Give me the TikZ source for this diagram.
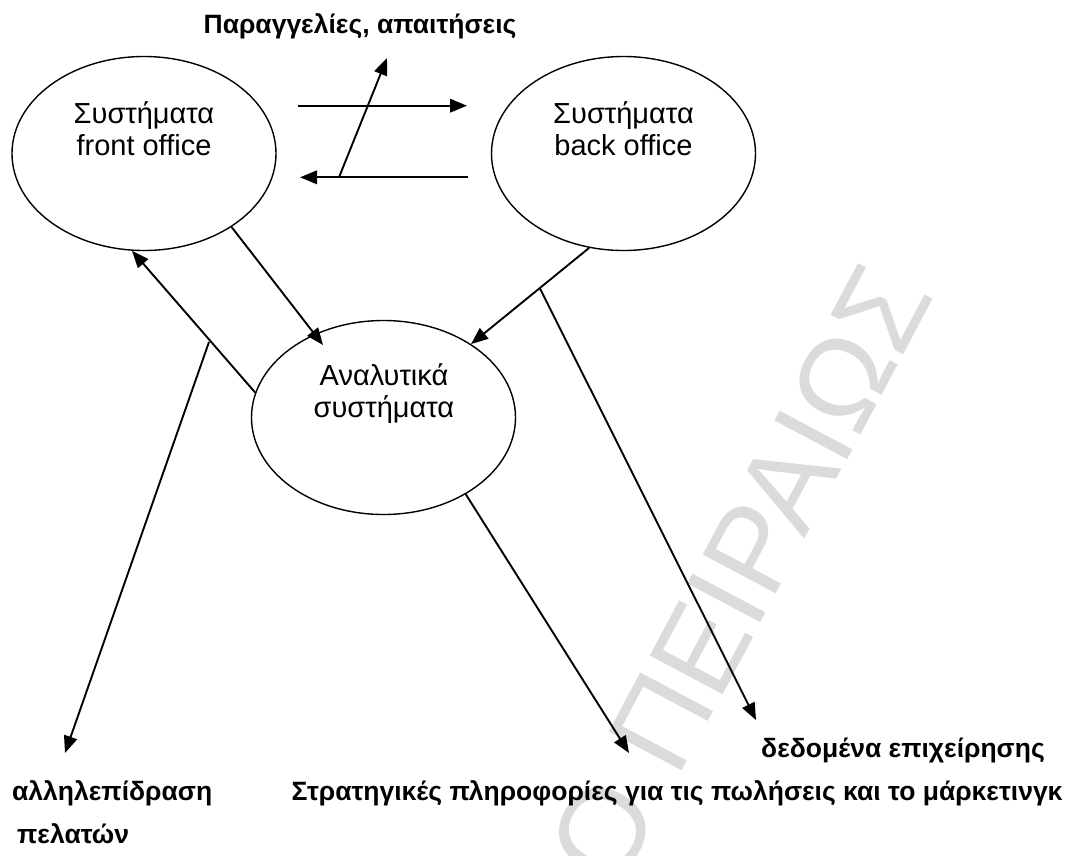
\documentclass[tikz,border=0pt]{standalone}
\usepackage{fontspec}
\setmainfont{Liberation Sans}
\usetikzlibrary{arrows.meta,shapes.geometric}

\tikzset{
  sysellipse/.style={draw, ellipse, line width=1.4pt, minimum width=264pt,
    minimum height=194pt, inner sep=0pt},
  systext/.style={font=\fontsize{29}{32}\selectfont, anchor=base, inner sep=0pt},
  flow/.style={line width=1.9pt, -{Triangle[length=17pt,width=13.5pt]}},
  caption/.style={font=\bfseries\fontsize{26.5}{30}\selectfont, inner sep=0pt},
  watermark/.style={text=black!14, font=\fontsize{120}{120}\selectfont,
    rotate=62, anchor=base east, inner sep=0pt},
}

\begin{document}
\begin{tikzpicture}[x=1pt,y=-1pt]
\useasboundingbox (0,0) rectangle (1083,855);

% faint background stamp
\begin{scope}
  \clip (0,0) rectangle (1083,855);
  \node[watermark] (stamp) at (935,295) {ΠΑΝΕΠΙΣΤΗΜΙΟ ΠΕΙΡΑΙΩΣ};
\end{scope}

% the three groups of systems
\node[sysellipse] (front) at (144,153.5) {};
\node[sysellipse] (back) at (623.5,153.5) {};
\node[sysellipse] (anal) at (383.5,417.5) {};

\node[systext] (front1) at (144,123) {Συστήματα};
\node[systext] (front2) at (144,155) {front office};
\node[systext] (back1) at (623.5,123) {Συστήματα};
\node[systext] (back2) at (623.5,155) {back office};
\node[systext] (anal1) at (384,385) {Αναλυτικά};
\node[systext] (anal2) at (384,417) {συστήματα};

% captions
\node[caption, anchor=base] (orders) at (360,33) {Παραγγελίες, απαιτήσεις};
\node[caption, anchor=base west] (cust1) at (12,800) {αλληλεπίδραση};
\node[caption, anchor=base west] (cust2) at (17,843) {πελατών};
\node[caption, anchor=base] (strat) at (677,800) {Στρατηγικές πληροφορίες για τις πωλήσεις και το μάρκετινγκ};
\node[caption, anchor=base] (data) at (903,757) {δεδομένα επιχείρησης};

% exchange between front and back office
\coordinate (ex1) at (298,105.7);
\coordinate (ex2) at (467,105.7);
\coordinate (ex3) at (468,177.3);
\coordinate (ex4) at (300,177.3);
\coordinate (exfoot) at (339,177.3);
\coordinate (extip) at (387,58);
\draw[flow] (ex1) -- (ex2);
\draw[flow] (ex3) -- (ex4);
\draw[flow] (exfoot) -- (extip);

% flows into and out of the analytical systems
\coordinate (fatip) at (323,345);
\draw[flow] (front.-40.4) -- (fatip);
\draw[flow] (anal.169.9) -- (front.263.5);
\coordinate (custfork) at (209,342);
\coordinate (custtip) at (65,753);
\draw[flow] (custfork) -- (custtip);

\draw[flow] (back.250.1) -- (anal.40);
\coordinate (datafork) at (540,288.5);
\coordinate (datatip) at (756,720);
\draw[flow] (datafork) -- (datatip);

\coordinate (strattip) at (629,753);
\draw[flow] (anal.-43.3) -- (strattip);
\end{tikzpicture}
\end{document}
